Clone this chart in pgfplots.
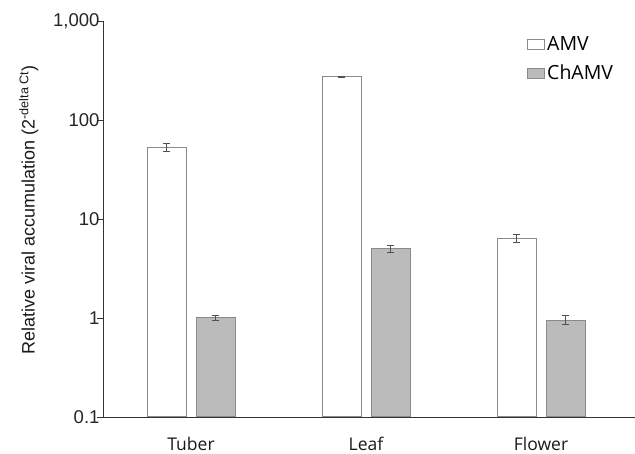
\documentclass[border=0pt]{standalone}
\usepackage{fontspec}
\setmainfont{Liberation Sans}
\newfontfamily\osans{Open Sans}
\usepackage{pgfplots}
\pgfplotsset{compat=1.18}
\definecolor{barline}{HTML}{8A8A8A}
\definecolor{barfill}{HTML}{BBBBBB}
\definecolor{errc}{HTML}{505050}
\begin{document}
\begin{tikzpicture}
\begin{axis}[
  scale only axis,
  width=532pt, height=396pt,
  ymode=log, log origin y=infty,
  ymin=0.1, ymax=1000,
  xmin=-0.503, xmax=2.537,
  ytick={0.1,1,10,100,1000},
  yticklabels={0.1,1,10,100,{1,000}},
  yminorticks=false,
  xtick={0,1,2},
  xticklabels={Tuber,Leaf,Flower},
  axis x line*=bottom, axis y line*=left,
  axis line style={black!80, line width=0.9pt, -},
  x tick style={draw=none},
  y tick style={black!80, line width=0.9pt},
  tick align=outside, major tick length=6pt,
  yticklabel style={font=\fontsize{18.5}{20}\selectfont, text=black!85, xshift=6pt},
  xticklabel style={font=\osans\fontsize{17.5}{20}\selectfont, text=black!90, inner sep=1pt, text depth=0pt, yshift=-13pt},
  /pgf/number format/assume math mode=true,
  ylabel={Relative viral accumulation (2\textsuperscript{-delta Ct})},
  ylabel style={font=\fontsize{18}{20}\selectfont, text=black!90, yshift=8pt, xshift=9pt},
  ybar, bar width=39pt,
  legend style={draw=none, fill=none, at={(0.797,0.966)}, anchor=north west,
    font=\osans\fontsize{19.5}{22}\selectfont, inner sep=0pt, row sep=9pt,
    legend cell align=left},
  legend image code/.code={\draw[#1, line width=0.8pt] (0pt,-5pt) rectangle (10pt,5pt); \useasboundingbox (0pt,-5pt) rectangle (17pt,5pt);},
]
\addplot+[bar shift=-24.5pt, fill=white, draw=barline, line width=1pt,
  error bars/.cd, y dir=both, y explicit,
  error bar style={errc, line width=1pt},
  error mark options={rotate=90, mark size=3.5pt, errc, line width=1pt}]
  coordinates {(0,53) +- (0,5) (1,272) +- (0,4) (2,6.4) +- (0,0.55)};
\addlegendentry{AMV}
\addplot+[bar shift=24.5pt, fill=barfill, draw=barline, line width=1pt,
  error bars/.cd, y dir=both, y explicit,
  error bar style={errc, line width=1pt},
  error mark options={rotate=90, mark size=3.5pt, errc, line width=1pt}]
  coordinates {(0,1.0) +- (0,0.06) (1,5.0) +- (0,0.38) (2,0.95) +- (0,0.1)};
\addlegendentry{ChAMV}
\end{axis}
\pgfresetboundingbox
\path ([xshift=-103pt,yshift=-37pt]current axis.south west) rectangle ([yshift=21pt]current axis.north east);
\end{tikzpicture}
\end{document}
